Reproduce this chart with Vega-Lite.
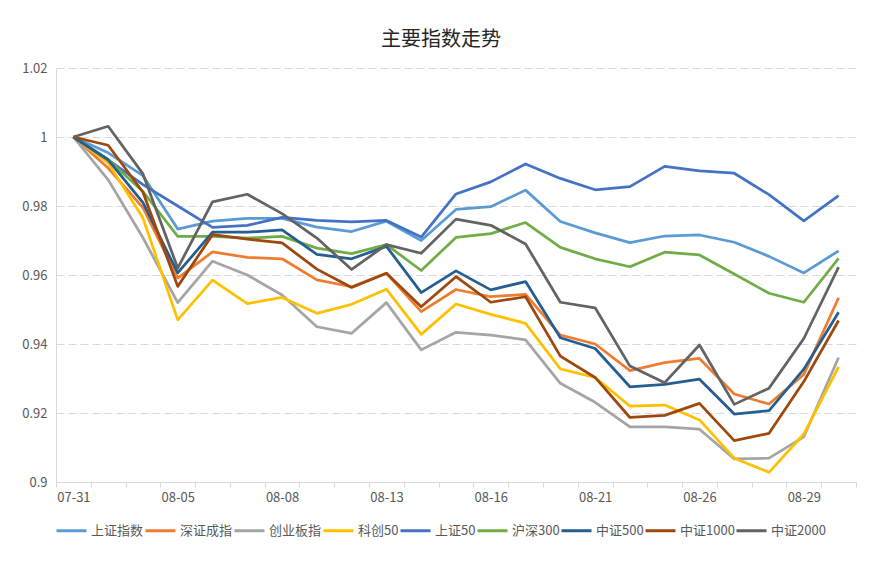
{
  "$schema": "https://vega.github.io/schema/vega-lite/v6.json",
  "autosize": "none",
  "width": 800,
  "height": 414,
  "padding": {"left": 56, "top": 68, "right": 30, "bottom": 82},
  "background": "white",
  "title": {"text": "主要指数走势", "fontSize": 20, "font": "Noto Sans CJK SC", "fontWeight": "normal", "color": "#262626", "anchor": "middle", "dx": -15, "offset": 12},
  "data": {"values": [
    {"d":"07-31","s":"上证指数","v":1},{"d":"08-01","s":"上证指数","v":0.9954},{"d":"08-02","s":"上证指数","v":0.9888},{"d":"08-05","s":"上证指数","v":0.9733},{"d":"08-06","s":"上证指数","v":0.9756},{"d":"08-07","s":"上证指数","v":0.9764},{"d":"08-08","s":"上证指数","v":0.9764},{"d":"08-09","s":"上证指数","v":0.9739},{"d":"08-12","s":"上证指数","v":0.9726},{"d":"08-13","s":"上证指数","v":0.9756},{"d":"08-14","s":"上证指数","v":0.9700},{"d":"08-15","s":"上证指数","v":0.9790},{"d":"08-16","s":"上证指数","v":0.9798},{"d":"08-19","s":"上证指数","v":0.9846},{"d":"08-20","s":"上证指数","v":0.9755},{"d":"08-21","s":"上证指数","v":0.9722},{"d":"08-22","s":"上证指数","v":0.9694},{"d":"08-23","s":"上证指数","v":0.9713},{"d":"08-26","s":"上证指数","v":0.9716},{"d":"08-27","s":"上证指数","v":0.9695},{"d":"08-28","s":"上证指数","v":0.9654},{"d":"08-29","s":"上证指数","v":0.9606},{"d":"08-30","s":"上证指数","v":0.9670},
    {"d":"07-31","s":"深证成指","v":1},{"d":"08-01","s":"深证成指","v":0.9910},{"d":"08-02","s":"深证成指","v":0.9795},{"d":"08-05","s":"深证成指","v":0.9591},{"d":"08-06","s":"深证成指","v":0.9667},{"d":"08-07","s":"深证成指","v":0.9651},{"d":"08-08","s":"深证成指","v":0.9647},{"d":"08-09","s":"深证成指","v":0.9586},{"d":"08-12","s":"深证成指","v":0.9566},{"d":"08-13","s":"深证成指","v":0.9605},{"d":"08-14","s":"深证成指","v":0.9494},{"d":"08-15","s":"深证成指","v":0.9558},{"d":"08-16","s":"深证成指","v":0.9537},{"d":"08-19","s":"深证成指","v":0.9544},{"d":"08-20","s":"深证成指","v":0.9426},{"d":"08-21","s":"深证成指","v":0.9400},{"d":"08-22","s":"深证成指","v":0.9323},{"d":"08-23","s":"深证成指","v":0.9346},{"d":"08-26","s":"深证成指","v":0.9358},{"d":"08-27","s":"深证成指","v":0.9255},{"d":"08-28","s":"深证成指","v":0.9226},{"d":"08-29","s":"深证成指","v":0.9312},{"d":"08-30","s":"深证成指","v":0.9534},
    {"d":"07-31","s":"创业板指","v":1},{"d":"08-01","s":"创业板指","v":0.9876},{"d":"08-02","s":"创业板指","v":0.9708},{"d":"08-05","s":"创业板指","v":0.9520},{"d":"08-06","s":"创业板指","v":0.9640},{"d":"08-07","s":"创业板指","v":0.9600},{"d":"08-08","s":"创业板指","v":0.9542},{"d":"08-09","s":"创业板指","v":0.9450},{"d":"08-12","s":"创业板指","v":0.9431},{"d":"08-13","s":"创业板指","v":0.9520},{"d":"08-14","s":"创业板指","v":0.9383},{"d":"08-15","s":"创业板指","v":0.9434},{"d":"08-16","s":"创业板指","v":0.9426},{"d":"08-19","s":"创业板指","v":0.9412},{"d":"08-20","s":"创业板指","v":0.9286},{"d":"08-21","s":"创业板指","v":0.9231},{"d":"08-22","s":"创业板指","v":0.9160},{"d":"08-23","s":"创业板指","v":0.9160},{"d":"08-26","s":"创业板指","v":0.9153},{"d":"08-27","s":"创业板指","v":0.9067},{"d":"08-28","s":"创业板指","v":0.9069},{"d":"08-29","s":"创业板指","v":0.9131},{"d":"08-30","s":"创业板指","v":0.9361},
    {"d":"07-31","s":"科创50","v":1},{"d":"08-01","s":"科创50","v":0.9925},{"d":"08-02","s":"科创50","v":0.9765},{"d":"08-05","s":"科创50","v":0.9470},{"d":"08-06","s":"科创50","v":0.9585},{"d":"08-07","s":"科创50","v":0.9517},{"d":"08-08","s":"科创50","v":0.9535},{"d":"08-09","s":"科创50","v":0.9489},{"d":"08-12","s":"科创50","v":0.9515},{"d":"08-13","s":"科创50","v":0.9559},{"d":"08-14","s":"科创50","v":0.9428},{"d":"08-15","s":"科创50","v":0.9516},{"d":"08-16","s":"科创50","v":0.9486},{"d":"08-19","s":"科创50","v":0.9460},{"d":"08-20","s":"科创50","v":0.9328},{"d":"08-21","s":"科创50","v":0.9303},{"d":"08-22","s":"科创50","v":0.9220},{"d":"08-23","s":"科创50","v":0.9223},{"d":"08-26","s":"科创50","v":0.9180},{"d":"08-27","s":"科创50","v":0.9069},{"d":"08-28","s":"科创50","v":0.9028},{"d":"08-29","s":"科创50","v":0.9139},{"d":"08-30","s":"科创50","v":0.9334},
    {"d":"07-31","s":"上证50","v":1},{"d":"08-01","s":"上证50","v":0.9934},{"d":"08-02","s":"上证50","v":0.9862},{"d":"08-05","s":"上证50","v":0.9800},{"d":"08-06","s":"上证50","v":0.9738},{"d":"08-07","s":"上证50","v":0.9744},{"d":"08-08","s":"上证50","v":0.9767},{"d":"08-09","s":"上证50","v":0.9758},{"d":"08-12","s":"上证50","v":0.9754},{"d":"08-13","s":"上证50","v":0.9758},{"d":"08-14","s":"上证50","v":0.9710},{"d":"08-15","s":"上证50","v":0.9835},{"d":"08-16","s":"上证50","v":0.9870},{"d":"08-19","s":"上证50","v":0.9922},{"d":"08-20","s":"上证50","v":0.9880},{"d":"08-21","s":"上证50","v":0.9847},{"d":"08-22","s":"上证50","v":0.9856},{"d":"08-23","s":"上证50","v":0.9915},{"d":"08-26","s":"上证50","v":0.9902},{"d":"08-27","s":"上证50","v":0.9895},{"d":"08-28","s":"上证50","v":0.9833},{"d":"08-29","s":"上证50","v":0.9757},{"d":"08-30","s":"上证50","v":0.9830},
    {"d":"07-31","s":"沪深300","v":1},{"d":"08-01","s":"沪深300","v":0.9934},{"d":"08-02","s":"沪深300","v":0.9842},{"d":"08-05","s":"沪深300","v":0.9712},{"d":"08-06","s":"沪深300","v":0.9712},{"d":"08-07","s":"沪深300","v":0.9707},{"d":"08-08","s":"沪深300","v":0.9712},{"d":"08-09","s":"沪深300","v":0.9678},{"d":"08-12","s":"沪深300","v":0.9662},{"d":"08-13","s":"沪深300","v":0.9688},{"d":"08-14","s":"沪深300","v":0.9613},{"d":"08-15","s":"沪深300","v":0.9709},{"d":"08-16","s":"沪深300","v":0.9720},{"d":"08-19","s":"沪深300","v":0.9752},{"d":"08-20","s":"沪深300","v":0.9680},{"d":"08-21","s":"沪深300","v":0.9647},{"d":"08-22","s":"沪深300","v":0.9624},{"d":"08-23","s":"沪深300","v":0.9666},{"d":"08-26","s":"沪深300","v":0.9658},{"d":"08-27","s":"沪深300","v":0.9603},{"d":"08-28","s":"沪深300","v":0.9547},{"d":"08-29","s":"沪深300","v":0.9521},{"d":"08-30","s":"沪深300","v":0.9648},
    {"d":"07-31","s":"中证500","v":1},{"d":"08-01","s":"中证500","v":0.9934},{"d":"08-02","s":"中证500","v":0.9810},{"d":"08-05","s":"中证500","v":0.9606},{"d":"08-06","s":"中证500","v":0.9724},{"d":"08-07","s":"中证500","v":0.9724},{"d":"08-08","s":"中证500","v":0.9731},{"d":"08-09","s":"中证500","v":0.9660},{"d":"08-12","s":"中证500","v":0.9647},{"d":"08-13","s":"中证500","v":0.9683},{"d":"08-14","s":"中证500","v":0.9549},{"d":"08-15","s":"中证500","v":0.9612},{"d":"08-16","s":"中证500","v":0.9557},{"d":"08-19","s":"中证500","v":0.9581},{"d":"08-20","s":"中证500","v":0.9418},{"d":"08-21","s":"中证500","v":0.9387},{"d":"08-22","s":"中证500","v":0.9276},{"d":"08-23","s":"中证500","v":0.9283},{"d":"08-26","s":"中证500","v":0.9298},{"d":"08-27","s":"中证500","v":0.9197},{"d":"08-28","s":"中证500","v":0.9207},{"d":"08-29","s":"中证500","v":0.9327},{"d":"08-30","s":"中证500","v":0.9492},
    {"d":"07-31","s":"中证1000","v":1},{"d":"08-01","s":"中证1000","v":0.9976},{"d":"08-02","s":"中证1000","v":0.9840},{"d":"08-05","s":"中证1000","v":0.9567},{"d":"08-06","s":"中证1000","v":0.9717},{"d":"08-07","s":"中证1000","v":0.9704},{"d":"08-08","s":"中证1000","v":0.9693},{"d":"08-09","s":"中证1000","v":0.9617},{"d":"08-12","s":"中证1000","v":0.9564},{"d":"08-13","s":"中证1000","v":0.9605},{"d":"08-14","s":"中证1000","v":0.9508},{"d":"08-15","s":"中证1000","v":0.9595},{"d":"08-16","s":"中证1000","v":0.9521},{"d":"08-19","s":"中证1000","v":0.9537},{"d":"08-20","s":"中证1000","v":0.9365},{"d":"08-21","s":"中证1000","v":0.9303},{"d":"08-22","s":"中证1000","v":0.9187},{"d":"08-23","s":"中证1000","v":0.9193},{"d":"08-26","s":"中证1000","v":0.9228},{"d":"08-27","s":"中证1000","v":0.9120},{"d":"08-28","s":"中证1000","v":0.9141},{"d":"08-29","s":"中证1000","v":0.9291},{"d":"08-30","s":"中证1000","v":0.9468},
    {"d":"07-31","s":"中证2000","v":1},{"d":"08-01","s":"中证2000","v":1.0031},{"d":"08-02","s":"中证2000","v":0.9893},{"d":"08-05","s":"中证2000","v":0.9620},{"d":"08-06","s":"中证2000","v":0.9812},{"d":"08-07","s":"中证2000","v":0.9834},{"d":"08-08","s":"中证2000","v":0.9778},{"d":"08-09","s":"中证2000","v":0.9707},{"d":"08-12","s":"中证2000","v":0.9616},{"d":"08-13","s":"中证2000","v":0.9688},{"d":"08-14","s":"中证2000","v":0.9663},{"d":"08-15","s":"中证2000","v":0.9762},{"d":"08-16","s":"中证2000","v":0.9744},{"d":"08-19","s":"中证2000","v":0.9690},{"d":"08-20","s":"中证2000","v":0.9521},{"d":"08-21","s":"中证2000","v":0.9505},{"d":"08-22","s":"中证2000","v":0.9336},{"d":"08-23","s":"中证2000","v":0.9288},{"d":"08-26","s":"中证2000","v":0.9397},{"d":"08-27","s":"中证2000","v":0.9225},{"d":"08-28","s":"中证2000","v":0.9272},{"d":"08-29","s":"中证2000","v":0.9416},{"d":"08-30","s":"中证2000","v":0.9623}
  ]},
  "mark": {"type": "line", "strokeWidth": 2.75, "strokeJoin": "round"},
  "encoding": {
    "x": {
      "field": "d", "type": "ordinal", "sort": null, "bandPosition": 0.5,
      "scale": {"type": "band", "paddingInner": 0, "paddingOuter": 0},
      "axis": {
        "title": null, "labelAngle": 0, "tickBand": "extent", "labelOverlap": false,
        "labelExpr": "indexof(['07-31','08-05','08-08','08-13','08-16','08-21','08-26','08-29'], datum.value) >= 0 ? datum.value : ''",
        "domainColor": "#d9d9d9", "tickColor": "#d9d9d9", "tickSize": 5, "labelPadding": 4,
        "labelFontSize": 13, "labelColor": "#595959", "labelFont": "Noto Sans CJK SC", "grid": false
      }
    },
    "y": {
      "field": "v", "type": "quantitative",
      "scale": {"domain": [0.9, 1.02], "zero": false, "nice": false},
      "axis": {
        "title": null, "values": [0.9, 0.92, 0.94, 0.96, 0.98, 1, 1.02], "format": ".2~f",
        "grid": true, "gridDash": [8, 4], "gridColor": "#d9d9d9", "gridWidth": 1,
        "domain": true, "domainColor": "#d9d9d9", "ticks": false, "labelPadding": 9,
        "labelFontSize": 13, "labelColor": "#595959", "labelFont": "Noto Sans CJK SC"
      }
    },
    "color": {
      "field": "s", "type": "nominal",
      "scale": {
        "domain": ["上证指数", "深证成指", "创业板指", "科创50", "上证50", "沪深300", "中证500", "中证1000", "中证2000"],
        "range": ["#5B9BD5", "#ED7D31", "#A5A5A5", "#FFC000", "#4472C4", "#70AD47", "#255E91", "#9E480E", "#636363"]
      },
      "legend": {
        "title": null, "orient": "none", "legendX": -1, "legendY": 446, "direction": "horizontal", "columns": 9,
        "symbolType": "stroke", "symbolSize": 900, "symbolStrokeWidth": 3, "columnPadding": -6, "labelOffset": 3,
        "labelFontSize": 13, "labelColor": "#595959", "labelFont": "Noto Sans CJK SC", "padding": 0
      }
    }
  },
  "config": {"view": {"stroke": null}}
}
